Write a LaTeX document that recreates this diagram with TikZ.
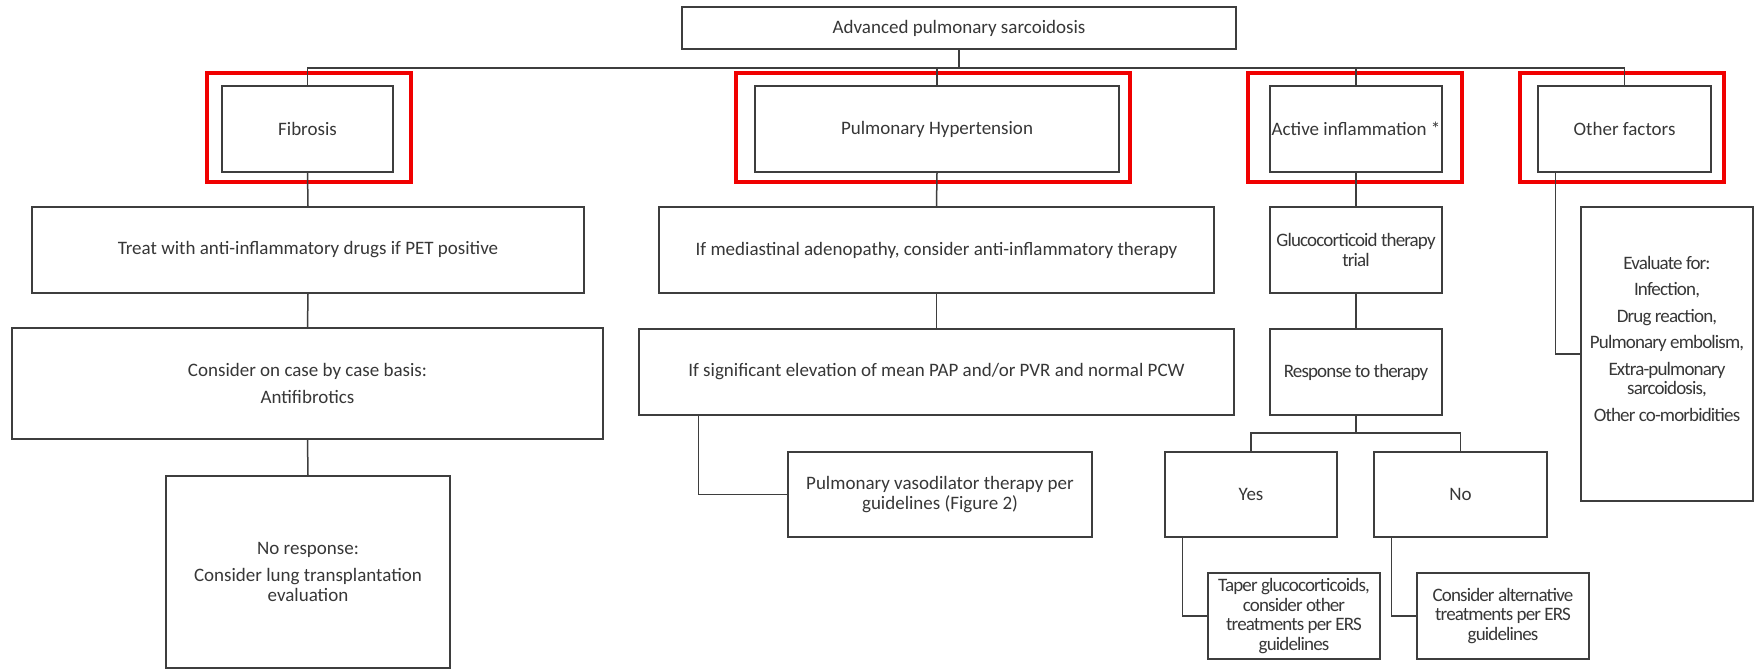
\documentclass[tikz,border=0pt]{standalone}
\usepackage{fontspec}
\setmainfont{Carlito}
\newfontfamily\narrowfont[LetterSpace=-4.5]{Carlito}
\definecolor{ln}{RGB}{62,62,62}
\definecolor{tx}{RGB}{55,55,55}
\definecolor{hl}{RGB}{240,0,0}
\newcommand\bx[7][]{\node[box,#1, minimum width=#5-#3, minimum height=#6-#4] (#2) at ({(#3+#5)/2},{(#4+#6)/2}) {#7};}
\begin{document}
\begin{tikzpicture}[x=1pt,y=-1pt,
  box/.style={draw=ln, line width=1.5pt, rectangle, inner sep=0pt, align=center, text=tx, font=\fontsize{19}{20}\selectfont},
  narrow/.style={font=\narrowfont\fontsize{19}{19.5}\selectfont},
  conn/.style={draw=ln, line width=1.5pt},
  hlbox/.style={draw=hl, line width=3.4pt}]
\fill[white] (0,0) rectangle (1760,670);
\useasboundingbox (0,0) rectangle (1760,670);

\bx{top}{682}{7}{1236}{49}{Advanced pulmonary sarcoidosis}
\bx{fib}{222}{86}{393}{172}{Fibrosis}
\bx{ph}{755}{86}{1119}{172}{Pulmonary Hypertension}
\bx{ai}{1270}{86}{1442}{172}{Active inflammation *}
\bx{of}{1538}{86}{1711}{172}{Other factors}
\bx{treat}{32}{207}{584}{293}{Treat with anti-inflammatory drugs if PET positive}
\bx{cons}{12}{328}{603}{439}{Consider on case by case basis:\\[7pt]Antifibrotics}
\bx{nores}{166}{476}{450}{668}{No response:\\[7pt]Consider lung transplantation\\evaluation}
\bx{med}{659}{207}{1214}{293}{If mediastinal adenopathy, consider anti-inflammatory therapy}
\bx{sig}{639}{329}{1234}{415}{If significant elevation of mean PAP and/or PVR and normal PCW}
\bx{vaso}{788}{452}{1092}{537}{Pulmonary vasodilator therapy per\\guidelines (Figure 2)}
\bx[narrow]{gluc}{1270}{207}{1442}{293}{Glucocorticoid therapy\\trial}
\bx[narrow]{resp}{1270}{329}{1442}{415}{Response to therapy}
\bx{yes}{1165}{452}{1337}{537}{Yes}
\bx{no}{1374}{452}{1547}{537}{No}
\bx[narrow]{taper}{1208}{573}{1380}{659}{Taper glucocorticoids,\\consider other\\treatments per ERS\\guidelines}
\bx[narrow]{alt}{1417}{573}{1589}{659}{Consider alternative\\treatments per ERS\\guidelines}
\bx[narrow]{eval}{1581}{207}{1753}{501}{Evaluate for:\\[7pt]Infection,\\[7pt]Drug reaction,\\[7pt]Pulmonary embolism,\\[7pt]Extra-pulmonary\\sarcoidosis,\\[7pt]Other co-morbidities\\[11pt]\mbox{}}

% highlight frames
\draw[hlbox] (207,73) rectangle (411,182);
\draw[hlbox] (736,73) rectangle (1130,182);
\draw[hlbox] (1248,73) rectangle (1462,182);
\draw[hlbox] (1520,73) rectangle (1724,182);

% connectors
\coordinate (busy) at (0,68);
\coordinate (ry) at (0,433);
\draw[conn] (top.south) -- (top.south |- busy);
\draw[conn] (fib.north) -- (fib.north |- busy) -- (of.north |- busy) -- (of.north);
\draw[conn] (ph.north) -- (ph.north |- busy);
\draw[conn] (ai.north) -- (ai.north |- busy);
\draw[conn] (fib.south) -- (treat.north);
\draw[conn] (treat.south) -- (cons.north);
\draw[conn] (cons.south) -- (nores.north);
\draw[conn] (ph.south) -- (med.north);
\draw[conn] (med.south) -- (sig.north);
\draw[conn] ([xshift=60pt]sig.south west) |- (vaso.west);
\draw[conn] (ai.south) -- (gluc.north);
\draw[conn] (gluc.south) -- (resp.north);
\draw[conn] (resp.south) -- (resp.south |- ry);
\draw[conn] (yes.north) -- (yes.north |- ry) -- (no.north |- ry) -- (no.north);
\draw[conn] ([xshift=18pt]yes.south west) |- (taper.west);
\draw[conn] ([xshift=18pt]no.south west) |- (alt.west);
\draw[conn] ([xshift=18pt]of.south west) |- (eval.west);
\end{tikzpicture}
\end{document}
